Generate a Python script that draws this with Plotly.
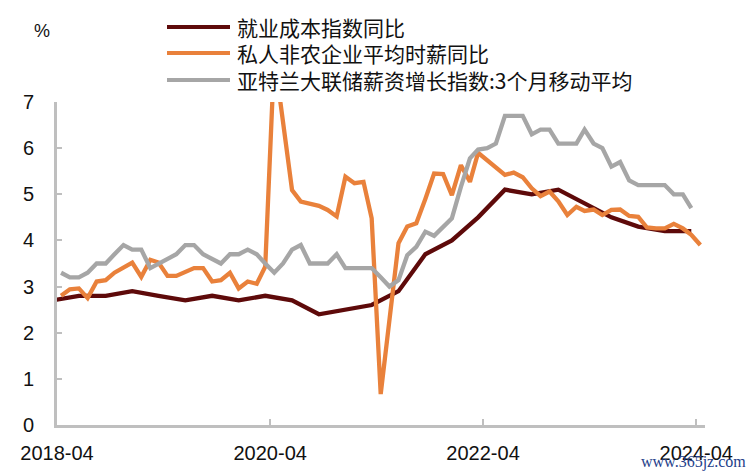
import plotly.graph_objects as go
import pandas as pd

# ---------------- data ----------------
months = [d.strftime("%Y-%m") for d in pd.date_range("2018-04-01", "2024-04-01", freq="MS")]

# 私人非农企业平均时薪同比 (monthly, 2018-04 .. 2024-04)
ahe = [2.80, 2.94, 2.96, 2.75, 3.11, 3.14, 3.30, 3.40, 3.52, 3.21, 3.58, 3.52,
       3.23, 3.23, 3.32, 3.40, 3.40, 3.11, 3.14, 3.30, 2.96, 3.11, 3.06, 3.43,
       8.00, 6.60, 5.09, 4.84, 4.80, 4.75, 4.66, 4.52, 5.38, 5.24, 5.27, 4.48,
       0.67, 2.20, 3.94, 4.30, 4.37, 4.90, 5.45, 5.44, 4.98, 5.63, 5.27, 5.90,
       5.74, 5.58, 5.42, 5.47, 5.37, 5.13, 4.96, 5.06, 4.85, 4.55, 4.73, 4.64,
       4.67, 4.55, 4.66, 4.67, 4.53, 4.51, 4.28, 4.26, 4.26, 4.36, 4.26, 4.12,
       3.90]

# 亚特兰大联储薪资增长指数:3个月移动平均 (monthly, 2018-04 .. 2024-03)
atl = [3.3, 3.2, 3.2, 3.3, 3.5, 3.5, 3.7, 3.9, 3.8, 3.8, 3.4, 3.5,
       3.6, 3.7, 3.9, 3.9, 3.7, 3.6, 3.5, 3.7, 3.7, 3.8, 3.7, 3.5,
       3.3, 3.5, 3.8, 3.9, 3.5, 3.5, 3.5, 3.7, 3.4, 3.4, 3.4, 3.4,
       3.2, 3.0, 3.14, 3.68, 3.86, 4.19, 4.10, 4.30, 4.48, 5.16, 5.78, 5.97,
       6.0, 6.1, 6.7, 6.7, 6.7, 6.3, 6.4, 6.4, 6.1, 6.1, 6.1, 6.4,
       6.1, 6.0, 5.6, 5.7, 5.3, 5.2, 5.2, 5.2, 5.2, 5.0, 5.0, 4.7]

# 就业成本指数同比 (quarterly)
eci_q = ["2018-03", "2018-06", "2018-09", "2018-12", "2019-03", "2019-06", "2019-09", "2019-12",
         "2020-03", "2020-06", "2020-09", "2020-12", "2021-03", "2021-06", "2021-09", "2021-12",
         "2022-03", "2022-06", "2022-09", "2022-12", "2023-03", "2023-06", "2023-09", "2023-12",
         "2024-03"]
eci = [2.7, 2.8, 2.8, 2.9, 2.8, 2.7, 2.8, 2.7,
       2.8, 2.7, 2.4, 2.5, 2.6, 2.9, 3.7, 4.0,
       4.5, 5.1, 5.0, 5.1, 4.8, 4.5, 4.3, 4.2,
       4.2]

tick_vals = ["2018-04", "2020-04", "2022-04", "2024-04"]
names = ["就业成本指数同比", "私人非农企业平均时薪同比", "亚特兰大联储薪资增长指数:3个月移动平均"]
colors = ["#5E0A0A", "#E9813B", "#A6A6A6"]


def mid(m):
    return pd.Timestamp(m + "-15")


# ---------------- figure ----------------
W, H = 751, 475
L, R, T, B = 57, 705, 102, 425

fig = go.Figure()
fig.add_trace(go.Scatter(x=[mid(m) for m in eci_q], y=eci, mode="lines",
                         line=dict(color=colors[0], width=4.3), name=names[0]))
fig.add_trace(go.Scatter(x=[mid(m) for m in months[:len(ahe)]], y=ahe, mode="lines",
                         line=dict(color=colors[1], width=4.3), name=names[1]))
fig.add_trace(go.Scatter(x=[mid(m) for m in months[:len(atl)]], y=atl, mode="lines",
                         line=dict(color=colors[2], width=4.3), name=names[2]))


def px_x(p):
    return (p - L) / (R - L)


def px_y(p):
    return (B - p) / (B - T)


# manual legend
rows = [27, 53, 80]
for name, col, ry in zip(names, colors, rows):
    fig.add_shape(type="line", xref="paper", yref="paper",
                  x0=px_x(167), x1=px_x(230), y0=px_y(ry), y1=px_y(ry),
                  line=dict(color=col, width=4))
    fig.add_annotation(xref="paper", yref="paper", x=px_x(235), y=px_y(ry),
                       xanchor="left", yanchor="middle", text=name, showarrow=False,
                       font=dict(family="Noto Sans CJK SC", size=21, color="#111111"))

fig.add_annotation(xref="paper", yref="paper", x=px_x(42), y=px_y(31),
                   xanchor="center", yanchor="middle", text="%", showarrow=False,
                   font=dict(family="Liberation Sans", size=18, color="#111111"))

fig.add_annotation(xref="paper", yref="paper", x=px_x(748), y=px_y(462),
                   xanchor="right", yanchor="middle", text="www.365jz.com", showarrow=False,
                   font=dict(family="Liberation Serif", size=16, color="#24408A"))

axis_gray = "#BFBFBF"
fig.update_layout(
    width=W, height=H,
    margin=dict(l=L, r=W - R, t=T, b=H - B, pad=0),
    paper_bgcolor="white", plot_bgcolor="white",
    showlegend=False,
    font=dict(family="Liberation Sans", size=20, color="#111111"),
    xaxis=dict(
        type="date",
        range=["2018-04-01", "2024-05-01"],
        tickvals=[pd.Timestamp(t + "-01") for t in tick_vals],
        ticktext=tick_vals,
        ticks="inside", ticklen=6, tickwidth=2, tickcolor=axis_gray,
        showline=True, linecolor=axis_gray, linewidth=3,
        showgrid=False, zeroline=False,
        ticklabelstandoff=8,
        tickfont=dict(family="Liberation Sans", size=20, color="#111111"),
    ),
    yaxis=dict(
        range=[0, 7],
        tickvals=[0, 1, 2, 3, 4, 5, 6, 7],
        ticks="inside", ticklen=5, tickwidth=2, tickcolor=axis_gray,
        showline=True, linecolor=axis_gray, linewidth=3,
        showgrid=False, zeroline=False,
        ticklabelstandoff=16,
        tickfont=dict(family="Liberation Sans", size=20, color="#111111"),
    ),
)

fig.write_html("out.html")
